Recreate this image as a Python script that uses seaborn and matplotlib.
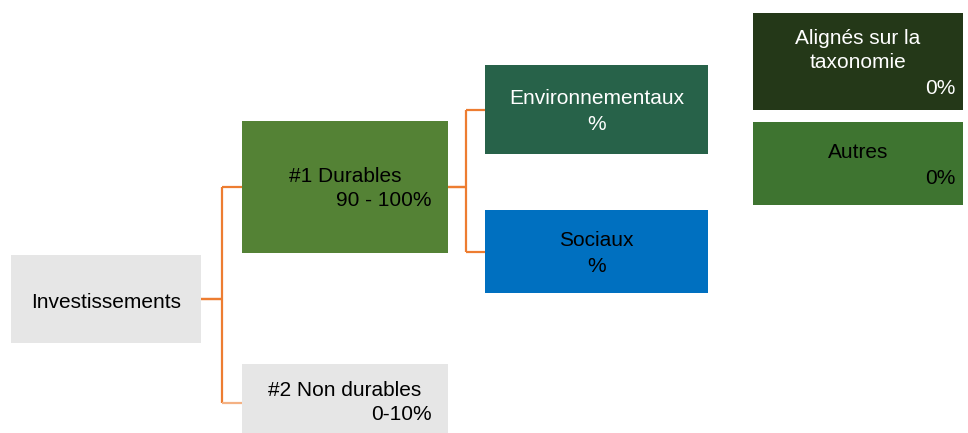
import matplotlib
matplotlib.use("Agg")
import matplotlib.pyplot as plt
import seaborn as sns
from matplotlib.patches import Rectangle

# node texts
node_titles = ["Investissements", "#1 Durables", "#2 Non durables",
               "Environnementaux", "Sociaux", "Alignés sur la\ntaxonomie", "Autres"]
node_shares = ["", "90 - 100%", "0-10%", "%", "%", "0%", "0%"]
# parent -> child links
links = [(0, 1), (0, 2), (1, 3), (1, 4)]

# layout in pixels (x0, y0, x1, y1) on a 968x433 canvas
boxes = [(11, 255, 201, 343), (242, 121, 448, 253), (242, 364, 448, 433),
         (485, 65, 708, 154), (485, 210, 708, 293), (753, 13, 963, 110), (753, 122, 963, 205)]
fills = ["#E6E6E6", "#548235", "#E6E6E6", "#276249", "#0070C0", "#243818", "#3E7430"]
inks = ["black", "black", "black", "white", "black", "white", "black"]
share_align = ["center", "right", "right", "center", "center", "right", "right"]
# (title y, share y)
text_y = [(301, None), (174, 199), (389, 413), (97, 122), (239, 265), (36, 86), (151, 176)]

sns.set_theme(style="white")
plt.rcParams["font.family"] = ["Liberation Sans", "DejaVu Sans"]
FS = 15
DY = 2  # nudge, va=center counts descenders

fig = plt.figure(figsize=(9.68, 4.33), dpi=100)
ax = fig.add_axes([0, 0, 1, 1])
ax.set_xlim(0, 968)
ax.set_ylim(433, 0)
ax.axis("off")

orange = "#ED7D31"
for p, c in links:
    px0, py0, px1, py1 = boxes[p]
    cx0, cy0, cx1, cy1 = boxes[c]
    ys = (py0 + py1) / 2
    ye = (cy0 + cy1) / 2 if c != 2 else 403
    xm = (px1 + cx0) / 2
    if p == 1:
        xm = 466
    ax.plot([px1, xm], [ys, ys], color=orange, lw=1.6, solid_capstyle="butt", zorder=1)
    ax.plot([xm, xm], [ys, ye], color=orange, lw=1.6, solid_capstyle="butt", zorder=1)
    ax.plot([xm, cx0], [ye, ye], color="#F4B183" if c == 2 else orange, lw=1.6,
            solid_capstyle="butt", zorder=1)

for i, (x0, y0, x1, y1) in enumerate(boxes):
    ax.add_patch(Rectangle((x0, y0), x1 - x0, y1 - y0, facecolor=fills[i], edgecolor="none", zorder=2))
    cx = (x0 + x1) / 2
    ty, sy = text_y[i]
    for k, line in enumerate(node_titles[i].split("\n")):
        ax.text(cx, ty + 25 * k + DY, line, ha="center", va="center", fontsize=FS, color=inks[i], zorder=3)
    if sy is not None:
        sx = cx if share_align[i] == "center" else x1 - 7 if i >= 5 else x1 - 16
        ax.text(sx, sy + DY, node_shares[i], ha=share_align[i], va="center", fontsize=FS,
                color=inks[i], zorder=3)

fig.savefig("out.png", dpi=100)
